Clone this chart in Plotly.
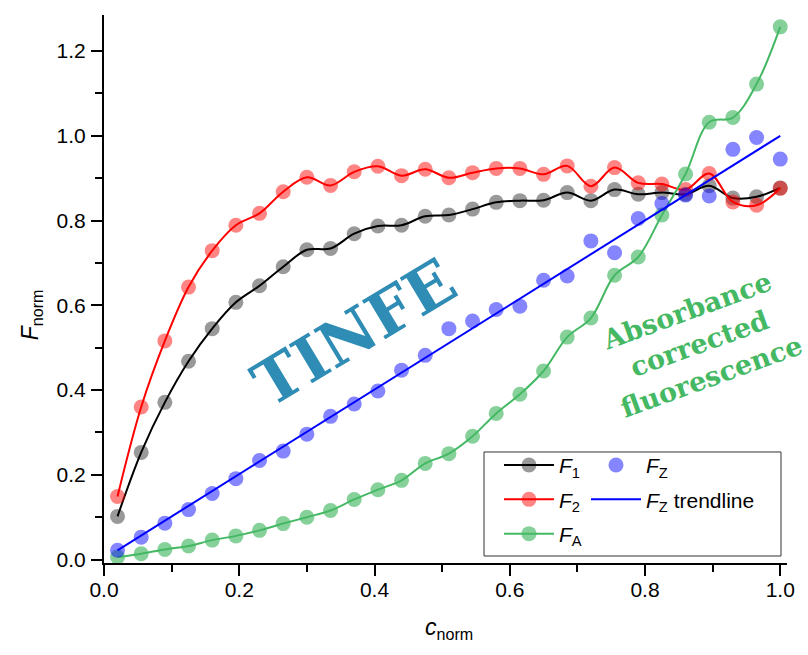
import plotly.graph_objects as go

# ---- data ----
c_norm = [0.02, 0.055, 0.09, 0.125, 0.16, 0.195, 0.23, 0.265, 0.30, 0.335,
          0.37, 0.405, 0.44, 0.475, 0.51, 0.545, 0.58, 0.615, 0.65, 0.685,
          0.72, 0.755, 0.79, 0.825, 0.86, 0.895, 0.93, 0.965, 1.0]

F1 = [0.102, 0.253, 0.371, 0.468, 0.545, 0.607, 0.646, 0.691, 0.731, 0.734,
      0.769, 0.787, 0.789, 0.810, 0.813, 0.827, 0.843, 0.847, 0.848, 0.866,
      0.847, 0.873, 0.862, 0.866, 0.862, 0.882, 0.853, 0.856, 0.877]

F2 = [0.149, 0.360, 0.516, 0.643, 0.729, 0.789, 0.817, 0.868, 0.902, 0.883,
      0.915, 0.928, 0.906, 0.921, 0.901, 0.913, 0.923, 0.923, 0.909, 0.929,
      0.881, 0.925, 0.889, 0.886, 0.873, 0.911, 0.844, 0.836, 0.876]

FA = [0.006, 0.014, 0.024, 0.032, 0.046, 0.056, 0.069, 0.085, 0.100, 0.116,
      0.142, 0.165, 0.187, 0.227, 0.250, 0.291, 0.345, 0.390, 0.445, 0.525,
      0.570, 0.671, 0.714, 0.813, 0.910, 1.032, 1.043, 1.122, 1.257]

FZ = [0.022, 0.053, 0.086, 0.118, 0.156, 0.191, 0.234, 0.256, 0.296, 0.338,
      0.367, 0.398, 0.447, 0.482, 0.545, 0.563, 0.590, 0.598, 0.659, 0.669,
      0.752, 0.724, 0.805, 0.840, 0.860, 0.858, 0.968, 0.996, 0.945]

trend_x = [0.02, 1.0]
trend_y = [0.022, 1.0]

x_ticks = [0.0, 0.2, 0.4, 0.6, 0.8, 1.0]
y_ticks = [0.0, 0.2, 0.4, 0.6, 0.8, 1.0, 1.2]

FONT = "Liberation Sans"
GREEN = "#45b864"
MS = 15

fig = go.Figure()

fig.add_trace(go.Scatter(
    x=c_norm, y=F1, mode="lines+markers", name="<i>F</i><sub>1</sub>",
    line=dict(color="black", width=2, shape="spline", smoothing=1),
    marker=dict(size=MS, color="rgba(0,0,0,0.4)"),
    legend="legend", legendgroup="a", cliponaxis=False))
fig.add_trace(go.Scatter(
    x=c_norm, y=F2, mode="lines+markers", name="<i>F</i><sub>2</sub>",
    line=dict(color="#ff0000", width=2, shape="spline", smoothing=1),
    marker=dict(size=MS, color="rgba(255,0,0,0.48)"),
    legend="legend", legendgroup="b", cliponaxis=False))
fig.add_trace(go.Scatter(
    x=c_norm, y=FA, mode="lines+markers", name="<i>F</i><sub>A</sub>",
    line=dict(color=GREEN, width=2, shape="spline", smoothing=1),
    marker=dict(size=MS, color="rgba(69,184,100,0.65)"),
    legend="legend", legendgroup="c", cliponaxis=False))
fig.add_trace(go.Scatter(
    x=c_norm, y=FZ, mode="markers", name="<i>F</i><sub>Z</sub>",
    marker=dict(size=MS, color="rgba(0,0,255,0.48)"),
    legend="legend2", legendgroup="d", cliponaxis=False))
fig.add_trace(go.Scatter(
    x=trend_x, y=trend_y, mode="lines", name="<i>F</i><sub>Z</sub> trendline",
    line=dict(color="#0000ff", width=2),
    legend="legend2", legendgroup="e", cliponaxis=False))

axis_common = dict(
    showline=True, linecolor="black", linewidth=2, mirror=False,
    ticks="outside", ticklen=11, tickwidth=2, tickcolor="black",
    showgrid=False, zeroline=False, tickformat=".1f",
    tickfont=dict(family=FONT, size=21, color="black"),
    minor=dict(ticks="outside", ticklen=7, tickwidth=2, tickcolor="black", dtick=0.1),
)

fig.update_xaxes(range=[0, 1.01], tickvals=x_ticks, ticklabelstandoff=-4, **axis_common)
fig.update_yaxes(range=[-0.008, 1.285], tickvals=y_ticks, ticklabelstandoff=1, **axis_common)

legend_common = dict(
    bgcolor="rgba(0,0,0,0)", borderwidth=0, itemwidth=50,
    font=dict(family=FONT, size=21, color="black"),
    tracegroupgap=4, xanchor="left", yanchor="top", orientation="v",
)

fig.update_layout(
    width=808, height=655,
    margin=dict(l=104, r=21, t=15, b=92),
    plot_bgcolor="white", paper_bgcolor="white",
    showlegend=True,
    legend=dict(x=0.5783, y=0.2155, **legend_common),
    legend2=dict(x=0.7057, y=0.2155, **legend_common),
    shapes=[dict(type="rect", xref="paper", yref="paper",
                 x0=0.5564, x1=0.9912, y0=0.0128, y1=0.2026,
                 line=dict(color="#333333", width=1), fillcolor="rgba(0,0,0,0)")],
    annotations=[
        dict(text="TINFE", x=0.371, y=0.535, xref="x", yref="y",
             showarrow=False, textangle=-31, xanchor="center", yanchor="middle",
             font=dict(family="DejaVu Serif", size=62, color="#2f8cb4", weight="bold")),
        dict(text="Absorbance<br>corrected<br>fluorescence", x=0.88, y=0.51,
             xref="x", yref="y", showarrow=False, textangle=-20, align="center",
             xanchor="center", yanchor="middle",
             font=dict(family="DejaVu Serif", size=27, color=GREEN, weight="bold")),
        dict(text="<i>F</i><sub>norm</sub>", x=-0.105, y=0.4526, xref="paper", yref="paper",
             showarrow=False, textangle=-90, xanchor="center", yanchor="middle",
             font=dict(family=FONT, size=23, color="black")),
        dict(text="<i>c</i><sub>norm</sub>", x=0.505, y=-0.12, xref="paper", yref="paper",
             showarrow=False, xanchor="center", yanchor="middle",
             font=dict(family=FONT, size=23, color="black")),
    ],
)

fig.write_html(
    "out.html",
    config={"displayModeBar": False},
    post_script="document.body.style.margin='0px';document.body.style.overflow='hidden';",
)
